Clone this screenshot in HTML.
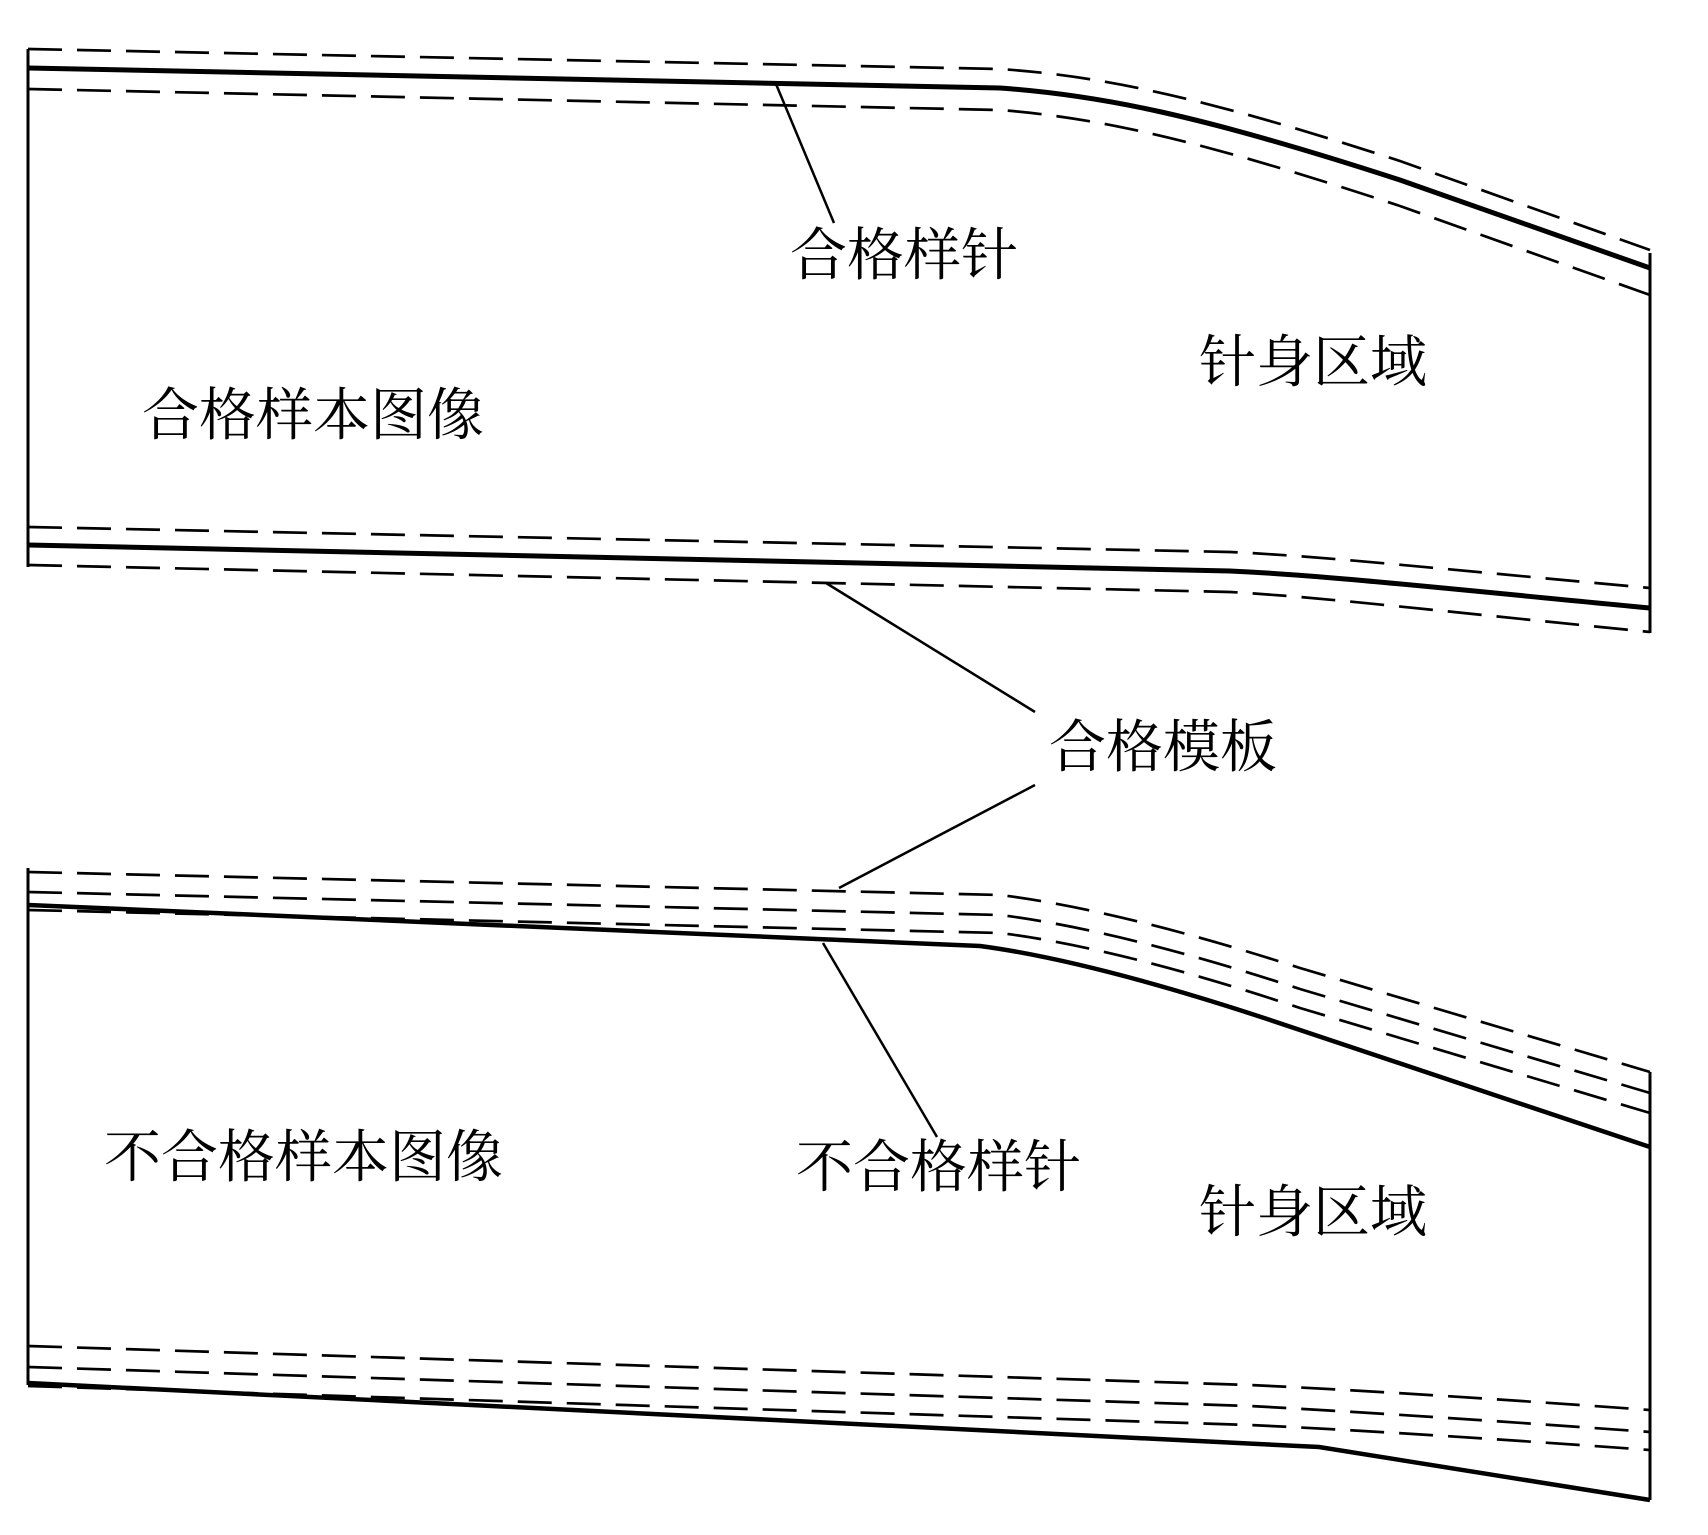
<!DOCTYPE html>
<html><head><meta charset="utf-8"><style>
html,body{margin:0;padding:0;background:#fff;}
svg{display:block;}
text{font-family:"Liberation Serif","Noto Serif CJK SC","Noto Sans CJK SC",serif;font-size:57px;fill:#000;dominant-baseline:central;}
</style></head><body>
<svg width="1708" height="1535" viewBox="0 0 1708 1535" xmlns="http://www.w3.org/2000/svg">
<g fill="none" stroke="#000" stroke-linecap="butt">
<!-- top panel -->
<line x1="28" y1="49" x2="28" y2="567" stroke-width="3"/>
<line x1="1650" y1="253" x2="1650" y2="633" stroke-width="3"/>
<path d="M28,49 L1000,69 C1100,76 1200,96 1400,161 L1650,250" stroke-width="2.7" stroke-dasharray="34,15"/>
<path d="M28,68 L1000,88 C1100,95 1200,115 1400,180 L1650,268" stroke-width="5"/>
<path d="M28,89 L1000,110 C1100,118 1200,140 1400,206 L1650,295" stroke-width="2.7" stroke-dasharray="34,15"/>
<path d="M28,527 L1230,552 C1320,556 1420,567 1650,588" stroke-width="2.7" stroke-dasharray="34,15"/>
<path d="M28,545 L1230,571 C1320,575 1420,586 1650,608" stroke-width="5"/>
<path d="M28,565 L1230,592 C1320,597 1420,609 1650,632" stroke-width="2.7" stroke-dasharray="34,15"/>
<!-- bottom panel -->
<line x1="28" y1="868" x2="28" y2="1385" stroke-width="3"/>
<line x1="1650" y1="1072" x2="1650" y2="1500" stroke-width="3"/>
<path d="M28,872 L1000,895 Q1120,910 1300,968 L1650,1072" stroke-width="2.7" stroke-dasharray="34,15"/>
<path d="M28,892 L1000,915 Q1120,930 1300,989 L1650,1093" stroke-width="2.7" stroke-dasharray="34,15"/>
<path d="M28,910 L1000,933 Q1120,948 1300,1008 L1650,1113" stroke-width="2.7" stroke-dasharray="34,15"/>
<path d="M28,905 L980,946 Q1100,962 1300,1030 L1650,1147" stroke-width="4.5"/>
<path d="M28,1346 L1250,1385 Q1400,1392 1650,1410" stroke-width="2.7" stroke-dasharray="34,15"/>
<path d="M28,1367 L1250,1406 Q1400,1414 1650,1432" stroke-width="2.7" stroke-dasharray="34,15"/>
<path d="M28,1386 L1250,1425 Q1400,1432 1650,1450" stroke-width="2.7" stroke-dasharray="34,15"/>
<path d="M28,1383 L1319,1447 L1650,1500" stroke-width="4.5"/>
<!-- leaders -->
<line x1="776" y1="84" x2="834" y2="223" stroke-width="2.5"/>
<line x1="826" y1="583" x2="1035" y2="712" stroke-width="2.5"/>
<line x1="1035" y1="785" x2="839" y2="888" stroke-width="2.5"/>
<line x1="823" y1="943" x2="937" y2="1137" stroke-width="2.5"/>
</g>
<text x="790" y="256">合格样针</text>
<text x="1199" y="363">针身区域</text>
<text x="142" y="416">合格样本图像</text>
<text x="1049" y="748">合格模板</text>
<text x="104" y="1158">不合格样本图像</text>
<text x="796" y="1168">不合格样针</text>
<text x="1199" y="1213">针身区域</text>
</svg>
</body></html>
